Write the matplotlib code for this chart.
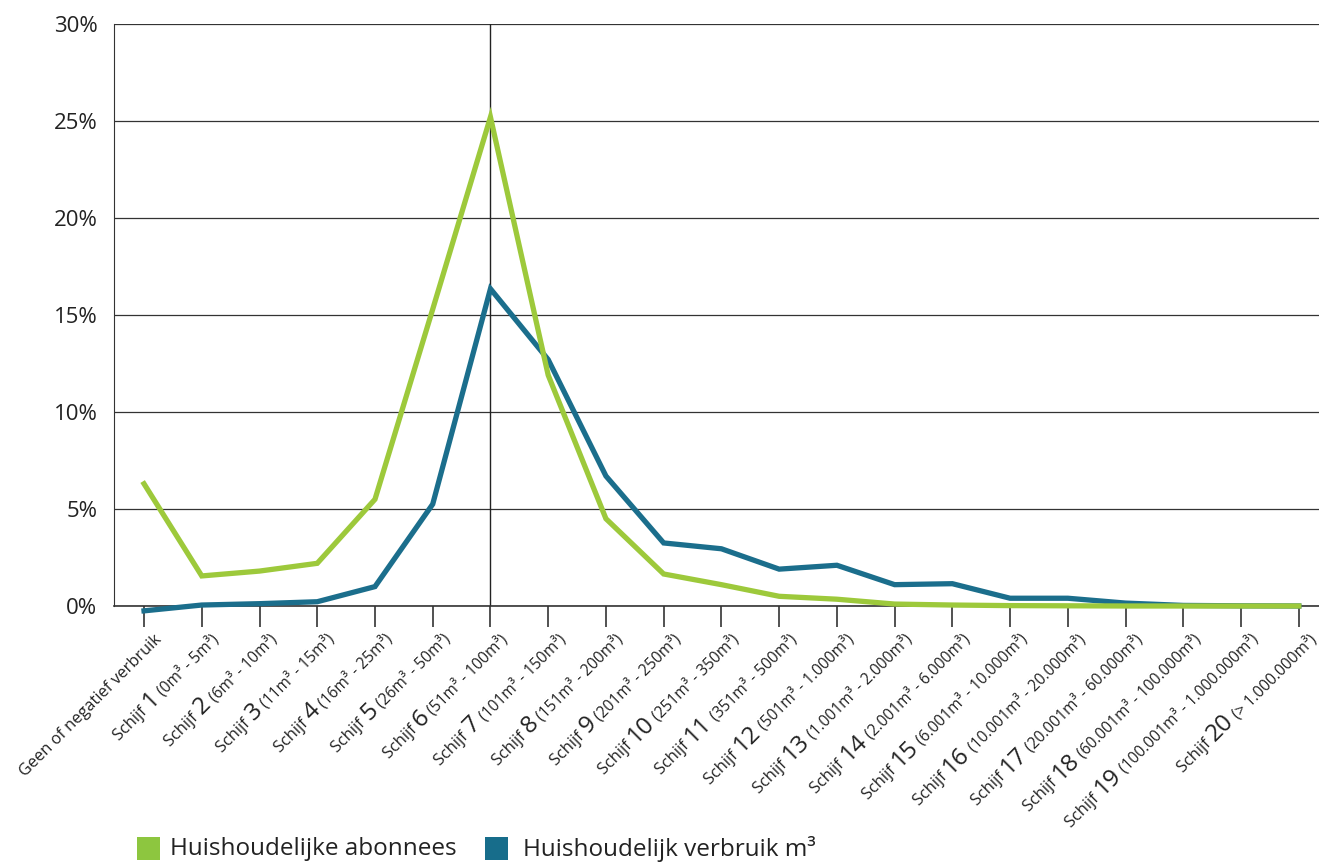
import matplotlib

matplotlib.use("Agg")

import matplotlib.pyplot as plt
import matplotlib.transforms as mtransforms
from matplotlib.font_manager import FontProperties
from matplotlib.patches import Rectangle
import numpy as np

plt.rcParams["font.family"] = ["Open Sans", "DejaVu Sans"]

# Categorieen: (prefix, nummer, bereik)
cat_prefix = ["Geen of negatief verbruik"] + ["Schijf "] * 20
cat_nummer = [""] + [str(i) for i in range(1, 21)]
cat_bereik = [
    "",
    " (0m³ - 5m³)",
    " (6m³ - 10m³)",
    " (11m³ - 15m³)",
    " (16m³ - 25m³)",
    " (26m³ - 50m³)",
    " (51m³ - 100m³)",
    " (101m³ - 150m³)",
    " (151m³ - 200m³)",
    " (201m³ - 250m³)",
    " (251m³ - 350m³)",
    " (351m³ - 500m³)",
    " (501m³ - 1.000m³)",
    " (1.001m³ - 2.000m³)",
    " (2.001m³ - 6.000m³)",
    " (6.001m³ - 10.000m³)",
    " (10.001m³ - 20.000m³)",
    " (20.001m³ - 60.000m³)",
    " (60.001m³ - 100.000m³)",
    " (100.001m³ - 1.000.000m³)",
    " (> 1.000.000m³)",
]

abonnees = [6.3, 1.55, 1.8, 2.2, 5.5, 15.3, 25.2, 11.9, 4.5, 1.65, 1.1,
            0.5, 0.35, 0.1, 0.05, 0.02, 0.01, 0.0, 0.0, 0.0, 0.0]
verbruik = [-0.25, 0.05, 0.12, 0.22, 1.0, 5.25, 16.35, 12.7, 6.7, 3.25, 2.95,
            1.9, 2.1, 1.1, 1.15, 0.4, 0.4, 0.15, 0.03, 0.01, 0.0]

groen = "#9dc93b"
blauw = "#1b6e8c"
groen_leg = "#8dc63f"
blauw_leg = "#176d8b"

fig = plt.figure(figsize=(13.19, 8.64), dpi=100)
ax = fig.add_axes([114 / 1319, 1 - 606 / 864, 1 - 114 / 1319, (606 - 24) / 864])

x = np.arange(len(cat_prefix))
ax.plot(x, verbruik, color=blauw, lw=3.8, clip_on=False, zorder=3, solid_joinstyle="miter")
ax.plot(x, abonnees, color=groen, lw=3.8, clip_on=False, zorder=4, solid_joinstyle="miter")

ax.set_xlim(-0.52, 20.35)
ax.set_ylim(0, 30)
ax.set_yticks(np.arange(0, 31, 5))
ax.set_yticklabels([f"{v}%" for v in range(0, 31, 5)], fontsize=16, color="#222222")
ax.tick_params(axis="y", length=0, pad=12)
ax.grid(axis="y", color="#333333", lw=0.9)
ax.axvline(6, color="#222222", lw=1.0, zorder=2)
ax.set_axisbelow(True)

for s in ["top", "right"]:
    ax.spines[s].set_visible(False)
ax.spines["left"].set_color("#333333")
ax.spines["bottom"].set_color("#333333")
ax.spines["bottom"].set_linewidth(1.2)

ax.set_xticks(x)
ax.set_xticklabels([])
ax.tick_params(axis="x", length=15, width=1.2, color="#333333")

# x-labels met gemengde lettergroottes
renderer = fig.canvas.get_renderer()
hoek = 45
cos_h, sin_h = np.cos(np.radians(hoek)), np.sin(np.radians(hoek))
basis = mtransforms.blended_transform_factory(ax.transData, ax.transAxes)
anker = mtransforms.ScaledTranslation(18 / 100, -34 / 100, fig.dpi_scale_trans)
for i in range(len(x)):
    stukken = [(cat_prefix[i], 11.8),
               (cat_nummer[i], 17.5),
               (cat_bereik[i], 11.2)]
    afstand = 0.0
    for tekst, grootte in reversed(stukken):
        if not tekst:
            continue
        prop = FontProperties(family=["Open Sans", "DejaVu Sans"], size=grootte)
        w, h, d = renderer.get_text_width_height_descent(tekst, prop, ismath=False)
        afstand += w
        schuif = mtransforms.ScaledTranslation(-afstand * cos_h / fig.dpi,
                                               -afstand * sin_h / fig.dpi,
                                               fig.dpi_scale_trans)
        ax.text(i, 0, tekst, fontproperties=prop, rotation=hoek,
                rotation_mode="anchor", ha="left", va="baseline",
                color="#222222", transform=basis + anker + schuif, clip_on=False)

# legenda
fig.add_artist(Rectangle((137 / 1319, 1 - 860 / 864), 23 / 1319, 23 / 864,
                         transform=fig.transFigure, color=groen_leg, lw=0))
fig.text(170 / 1319, 1 - 849 / 864, "Huishoudelijke abonnees", fontsize=17.5,
         va="center", ha="left", color="#222222")
fig.add_artist(Rectangle((485 / 1319, 1 - 860 / 864), 23 / 1319, 23 / 864,
                         transform=fig.transFigure, color=blauw_leg, lw=0))
fig.text(523 / 1319, 1 - 849 / 864, "Huishoudelijk verbruik m³", fontsize=17.5,
         va="center", ha="left", color="#222222")

fig.savefig("out.png", dpi=100)
